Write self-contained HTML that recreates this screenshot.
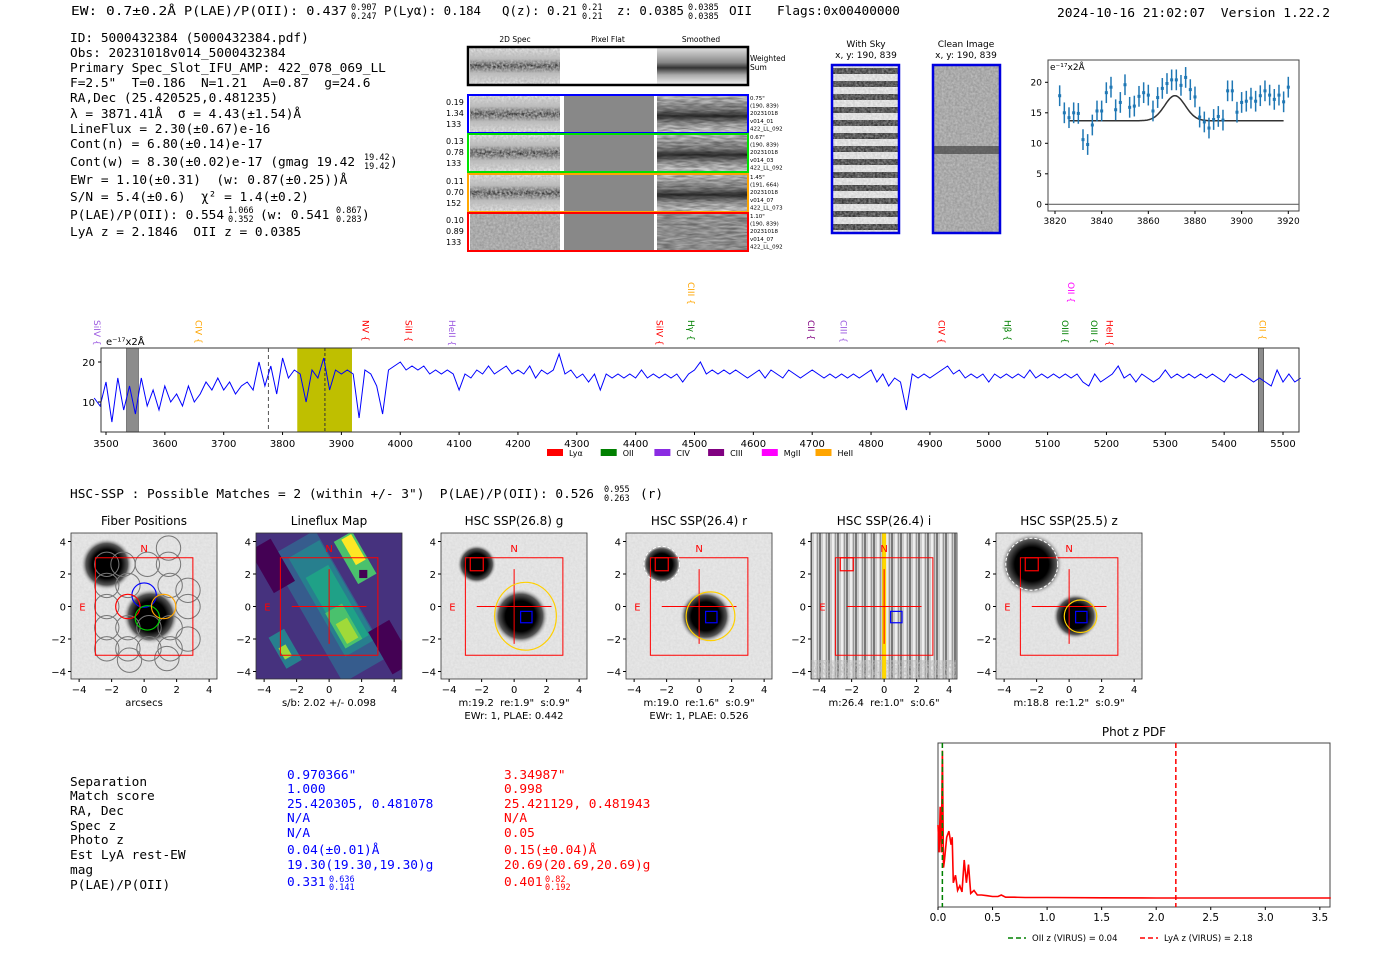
<!DOCTYPE html>
<html><head><meta charset="utf-8"><style>
html,body{margin:0;padding:0;background:#fff}
svg{display:block}
text{white-space:pre}
.m{font-family:"DejaVu Sans Mono","Liberation Mono",monospace;font-size:12.8px;fill:#000}
.m.k{font-size:8.5px}
.s{font-family:"DejaVu Sans","Liberation Sans",sans-serif;fill:#000}
</style></head><body>
<svg id="root" width="1400" height="953" viewBox="0 0 1400 953" xmlns="http://www.w3.org/2000/svg">
<defs>
<filter id="noise" x="0" y="0" width="100%" height="100%"><feTurbulence type="fractalNoise" baseFrequency="0.45" numOctaves="2" seed="3"/><feColorMatrix type="matrix" values="0 0 0 0 0.5 0 0 0 0 0.5 0 0 0 0 0.5 1.6 0 0 0 -0.3"/></filter>
<filter id="noise2" x="0" y="0" width="100%" height="100%"><feTurbulence type="fractalNoise" baseFrequency="0.08 0.5" numOctaves="2" seed="7"/><feColorMatrix type="matrix" values="0 0 0 0 0 0 0 0 0 0 0 0 0 0 0 1.4 0 0 0 -0.35"/></filter>
<radialGradient id="blob"><stop offset="0" stop-color="#000"/><stop offset="0.55" stop-color="#000"/><stop offset="0.8" stop-color="#555"/><stop offset="1" stop-color="#ddd" stop-opacity="0"/></radialGradient>
<linearGradient id="band" x1="0" y1="0" x2="0" y2="1"><stop offset="0" stop-color="#eee"/><stop offset="0.3" stop-color="#bbb"/><stop offset="0.5" stop-color="#222"/><stop offset="0.7" stop-color="#bbb"/><stop offset="1" stop-color="#eee"/></linearGradient>
<linearGradient id="bandw" x1="0" y1="0" x2="0" y2="1"><stop offset="0" stop-color="#ddd"/><stop offset="0.4" stop-color="#888"/><stop offset="0.55" stop-color="#333"/><stop offset="0.75" stop-color="#aaa"/><stop offset="1" stop-color="#eee"/></linearGradient>
<pattern id="skyst" width="66" height="13" patternUnits="userSpaceOnUse"><rect width="66" height="13" fill="#eee"/><rect y="3" width="66" height="6" fill="#333"/></pattern>
<pattern id="istripe" width="9" height="10" patternUnits="userSpaceOnUse"><rect width="9" height="10" fill="#ccc"/><rect x="0" width="2" height="10" fill="#777"/><rect x="4" width="2" height="10" fill="#eee"/><rect x="7" width="1" height="10" fill="#999"/></pattern>
</defs>

<!-- header -->
<g>
<text class="m" x="71" y="15" textLength="105" lengthAdjust="spacingAndGlyphs">EW: 0.7±0.2Å</text>
<text class="m" x="184" y="15" textLength="163" lengthAdjust="spacingAndGlyphs">P(LAE)/P(OII): 0.437</text><text class="m k" x="351" y="10">0.907</text><text class="m k" x="351" y="19">0.247</text>
<text class="m" x="384" y="15" textLength="97" lengthAdjust="spacingAndGlyphs">P(Lyα): 0.184</text>
<text class="m" x="502" y="15" textLength="75" lengthAdjust="spacingAndGlyphs">Q(z): 0.21</text><text class="m k" x="582" y="10">0.21</text><text class="m k" x="582" y="19">0.21</text>
<text class="m" x="617" y="15" textLength="67" lengthAdjust="spacingAndGlyphs">z: 0.0385</text><text class="m k" x="688" y="10">0.0385</text><text class="m k" x="688" y="19">0.0385</text><text class="m" x="729" y="15" textLength="23" lengthAdjust="spacingAndGlyphs">OII</text>
<text class="m" x="777" y="15" textLength="123" lengthAdjust="spacingAndGlyphs">Flags:0x00400000</text>
<text class="m" x="1057" y="17" textLength="273" lengthAdjust="spacingAndGlyphs">2024-10-16 21:02:07  Version 1.22.2</text>
</g>

<!-- info block -->
<g>
<text class="m" x="70" y="42">ID: 5000432384 (5000432384.pdf)</text>
<text class="m" x="70" y="57">Obs: 20231018v014_5000432384</text>
<text class="m" x="70" y="72">Primary Spec_Slot_IFU_AMP: 422_078_069_LL</text>
<text class="m" x="70" y="87">F=2.5"  T=0.186  N=1.21  A=0.87  g=24.6</text>
<text class="m" x="70" y="102">RA,Dec (25.420525,0.481235)</text>
<text class="m" x="70" y="118">λ = 3871.41Å  σ = 4.43(±1.54)Å</text>
<text class="m" x="70" y="133">LineFlux = 2.30(±0.67)e-16</text>
<text class="m" x="70" y="148">Cont(n) = 6.80(±0.14)e-17</text>
<text class="m" x="70" y="166">Cont(w) = 8.30(±0.02)e-17 (gmag 19.42</text><text class="m k" x="364" y="160">19.42</text><text class="m k" x="364" y="169">19.42</text><text class="m" x="390" y="166">)</text>
<text class="m" x="70" y="184">EWr = 1.10(±0.31)  (w: 0.87(±0.25))Å</text>
<text class="m" x="70" y="201">S/N = 5.4(±0.6)  χ² = 1.4(±0.2)</text>
<text class="m" x="70" y="219">P(LAE)/P(OII): 0.554</text><text class="m k" x="228" y="213">1.066</text><text class="m k" x="228" y="222">0.352</text><text class="m" x="260" y="219">(w: 0.541</text><text class="m k" x="336" y="213">0.867</text><text class="m k" x="336" y="222">0.283</text><text class="m" x="362" y="219">)</text>
<text class="m" x="70" y="236">LyA z = 2.1846  OII z = 0.0385</text>
</g>

<!-- 2D spectra -->
<g class="s">
<text x="515" y="42" font-size="7.5" text-anchor="middle">2D Spec</text>
<text x="608" y="42" font-size="7.5" text-anchor="middle">Pixel Flat</text>
<text x="701" y="42" font-size="7.5" text-anchor="middle">Smoothed</text>
<g>
<rect x="470" y="48" width="90" height="36" fill="url(#band)"/><rect x="470" y="48" width="90" height="36" filter="url(#noise)"/>
<rect x="657" y="48" width="90" height="36" fill="url(#bandw)"/>
<rect x="468" y="47" width="280" height="38" fill="none" stroke="#000" stroke-width="2.5"/>
<text x="750" y="61" font-size="7.5">Weighted</text><text x="750" y="70" font-size="7.5">Sum</text>
</g>
<g id="rows2d"></g>
<text x="866" y="47" font-size="9" text-anchor="middle">With Sky</text><text x="866" y="58" font-size="9" text-anchor="middle">x, y: 190, 839</text>
<text x="966" y="47" font-size="9" text-anchor="middle">Clean Image</text><text x="966" y="58" font-size="9" text-anchor="middle">x, y: 190, 839</text>
<g><rect x="832" y="65" width="67" height="168" fill="url(#skyst)"/><rect x="832" y="65" width="67" height="168" filter="url(#noise)" opacity="0.6"/><rect x="832" y="65" width="67" height="168" fill="none" stroke="#0000e0" stroke-width="2.5"/></g>
<g><rect x="933" y="65" width="67" height="168" fill="#999"/><rect x="933" y="65" width="67" height="168" filter="url(#noise)"/><rect x="933" y="146" width="67" height="8" fill="#333" opacity="0.6"/><rect x="933" y="65" width="67" height="168" fill="none" stroke="#0000e0" stroke-width="2.5"/></g>
</g>

<g id="zoomplot" class="s"></g>
<g id="spec" class="s"></g>

<text class="m" x="70" y="498">HSC-SSP : Possible Matches = 2 (within +/- 3")  P(LAE)/P(OII): 0.526</text><text class="m k" x="604" y="492">0.955</text><text class="m k" x="604" y="501">0.263</text><text class="m" x="640" y="498">(r)</text>

<g id="cutouts" class="s"></g>

<!-- match table -->
<g>
<g class="m">
<text class="m" x="70" y="786">Separation</text><text class="m" x="70" y="800">Match score</text><text class="m" x="70" y="815">RA, Dec</text><text class="m" x="70" y="830">Spec z</text><text class="m" x="70" y="844">Photo z</text><text class="m" x="70" y="859">Est LyA rest-EW</text><text class="m" x="70" y="874">mag</text><text class="m" x="70" y="889">P(LAE)/P(OII)</text>
</g>
<g>
<text class="m" x="287" y="779" style="fill:#00f">0.970366"</text><text class="m" x="287" y="793" style="fill:#00f">1.000</text><text class="m" x="287" y="808" style="fill:#00f">25.420305, 0.481078</text><text class="m" x="287" y="822" style="fill:#00f">N/A</text><text class="m" x="287" y="837" style="fill:#00f">N/A</text><text class="m" x="287" y="854" style="fill:#00f">0.04(±0.01)Å</text><text class="m" x="287" y="869" style="fill:#00f">19.30(19.30,19.30)g</text><text class="m" x="287" y="886" style="fill:#00f">0.331</text><text class="m k" x="329" y="882" style="fill:#00f">0.636</text><text class="m k" x="329" y="890" style="fill:#00f">0.141</text>
</g>
<g>
<text class="m" x="504" y="779" style="fill:#f00">3.34987"</text><text class="m" x="504" y="793" style="fill:#f00">0.998</text><text class="m" x="504" y="808" style="fill:#f00">25.421129, 0.481943</text><text class="m" x="504" y="822" style="fill:#f00">N/A</text><text class="m" x="504" y="837" style="fill:#f00">0.05</text><text class="m" x="504" y="854" style="fill:#f00">0.15(±0.04)Å</text><text class="m" x="504" y="869" style="fill:#f00">20.69(20.69,20.69)g</text><text class="m" x="504" y="886" style="fill:#f00">0.401</text><text class="m k" x="545" y="882" style="fill:#f00">0.82</text><text class="m k" x="545" y="890" style="fill:#f00">0.192</text>
</g>
</g>

<g id="pdf" class="s"></g>
</svg>

<script>
// ---------- data ----------
const specStart = 3480, specStep = 10;
const specFlux = [11,9,15,5,16,8,14,7,16,9,13,8,14,10,12,9,14,10,12,15,13,16,13,15,12,14,15,13,20,14,19,12,21,16,18,17,10,18,16,21,13,18,17,18,17,6,18,17,14,7,18,19,20,18,19,18,19,17,18,17,18,17,13,17,16,18,17,19,17,18,19,17,18,17,19,16,18,17,18,22,17,18,16,17,15,17,13,17,16,17,16,17,16,18,16,17,16,17,16,17,15,17,18,20,17,18,17,18,17,18,17,16,17,18,16,18,17,16,18,17,16,17,18,17,16,17,16,17,16,17,16,17,18,15,17,14,16,15,8,17,16,17,16,17,18,19,17,18,16,17,16,17,15,17,16,17,16,17,16,18,16,17,16,17,16,17,16,17,15,14,17,15,16,17,19,16,17,15,17,16,15,16,18,16,17,16,17,16,17,16,17,16,15,17,16,17,16,15,16,15,14,18,15,17,15,16];
const specXTicks = [3500,3600,3700,3800,3900,4000,4100,4200,4300,4400,4500,4600,4700,4800,4900,5000,5100,5200,5300,5400,5500];
const specYTicks = [10,20];
const lineNames = ["SiIV","CIV","NV","SiII","HeII","SiIV","CIII","Hγ","CII","CIII","CIV","Hβ","OII","OIII","OIII","HeII","CII"];
const lineWaves = [3484,3656,3940,4013,4087,4440,4493,4493,4697,4752,4919,5031,5139,5129,5178,5204,5464];
const lineColors = ["#9b59e0","#ffa500","#ff0000","#ff0000","#9b59e0","#ff0000","#ffa500","#008000","#800080","#9b59e0","#ff0000","#008000","#ff00ff","#008000","#008000","#ff0000","#ffa500"];
const lineHigh = [0,0,0,0,0,0,1,0,0,0,0,0,1,0,0,0,0];
const legendNames = ["Lyα","OII","CIV","CIII","MgII","HeII"];
const legendColors = ["#ff0000","#008000","#8a2be2","#800080","#ff00ff","#ffa500"];

const fitWave = [3822,3824,3826,3828,3830,3832,3834,3836,3838,3840,3842,3844,3846,3848,3850,3852,3854,3856,3858,3860,3862,3864,3866,3868,3870,3872,3874,3876,3878,3880,3882,3884,3886,3888,3890,3892,3894,3896,3898,3900,3902,3904,3906,3908,3910,3912,3914,3916,3918,3920];
const fitFlux = [17.8,15,14.2,15,14.9,10.6,9.8,13,15.3,15.3,18.3,19.2,15.5,16.7,19.6,15.9,16.1,17.7,18.3,17.9,15.3,17.5,19,19.8,20.4,20.4,19.5,20.8,18.8,17.6,14.3,13.5,12.5,13.9,14.4,13.8,18.6,18.6,15.1,16.7,16.9,17.4,16.9,17.8,18.6,17.9,17.2,17.9,16.8,19.2];
const fitErr = 1.7;
const fitBase = 13.7, fitAmp = 4.1, fitCenter = 3871.4, fitSigma = 4.43;
const fitXTicks = [3820,3840,3860,3880,3900,3920];
const fitYTicks = [0,5,10,15,20];

const pdfZ = [0,0.01,0.02,0.03,0.04,0.05,0.06,0.08,0.1,0.12,0.13,0.14,0.16,0.18,0.2,0.22,0.24,0.26,0.28,0.3,0.33,0.36,0.4,0.45,0.5,0.55,0.58,0.62,0.7,0.8,1.0,1.5,2.0,3.6];
const pdfP = [0.48,0.3,0.6,0.3,0.97,0.2,0.25,0.4,0.44,0.35,0.4,0.1,0.15,0.05,0.08,0.04,0.25,0.1,0.22,0.03,0.05,0.02,0.02,0.015,0.01,0.01,0.02,0.005,0.005,0.003,0.003,0.001,0,0];
const pdfXTicks = [0.0,0.5,1.0,1.5,2.0,2.5,3.0,3.5];
const oiiZ = 0.04, lyaZ = 2.18;

const NS="http://www.w3.org/2000/svg";
function mk(tag, attrs, parent){const e=document.createElementNS(NS,tag);for(const k in attrs)e.setAttribute(k,attrs[k]);parent.appendChild(e);return e;}
function tx(str, attrs, parent){const e=mk("text",attrs,parent);e.textContent=str;return e;}

// ---------- 2D spectra rows ----------
(function(){
  const g=document.getElementById("rows2d");
  const ys=[95,134,174,213], cols=["#0000ff","#00e000","#ffa500","#ff0000"];
  const lab=[["0.19","1.34","133"],["0.13","0.78","133"],["0.11","0.70","152"],["0.10","0.89","133"]];
  const rl=[["0.75\"","(190, 839)","20231018","v014_01","422_LL_092"],["0.67\"","(190, 839)","20231018","v014_03","422_LL_092"],["1.45\"","(191, 664)","20231018","v014_07","422_LL_073"],["1.10\"","(190, 839)","20231018","v014_07","422_LL_092"]];
  ys.forEach((y,i)=>{
    const r=mk("g",{},g);
    
    
    mk("rect",{x:470,y:y,width:90,height:38,fill:i==3?"#999":"url(#band)"},r);
    mk("rect",{x:470,y:y,width:90,height:38,filter:"url(#noise)"},r);
    mk("rect",{x:564,y:y,width:90,height:38,fill:"#888"},r);
    mk("rect",{x:657,y:y,width:90,height:38,fill:i==3?"#aaa":"url(#bandw)"},r);
    mk("rect",{x:657,y:y,width:90,height:38,filter:"url(#noise2)",opacity:0.5},r);
    mk("rect",{x:468,y:y,width:280,height:38,fill:"none",stroke:cols[i],"stroke-width":2},r);
    lab[i].forEach((s,k)=>tx(s,{x:446,y:y+10+k*11,"font-size":8},r));
    rl[i].forEach((s,k)=>tx(s,{x:750,y:y+5+k*7.6,"font-size":5.5},r));
  });
})();

// ---------- zoom fit plot ----------
(function(){
  const g=document.getElementById("zoomplot");
  const L=1048,R=1299,T=60,B=211;
  const xs=w=>1055+(w-3820)*2.333, ys=v=>204.3-v*6.1;
  mk("rect",{x:L,y:T,width:R-L,height:B-T,fill:"#fff",stroke:"#444","stroke-width":1},g);
  mk("line",{x1:L,x2:R,y1:ys(0),y2:ys(0),stroke:"#666","stroke-width":1.2},g);
  fitXTicks.forEach(t=>{mk("line",{x1:xs(t),x2:xs(t),y1:B,y2:B+3,stroke:"#000"},g);tx(String(t),{x:xs(t),y:B+13,"font-size":9,"text-anchor":"middle"},g);});
  fitYTicks.forEach(t=>{mk("line",{x1:L-3,x2:L,y1:ys(t),y2:ys(t),stroke:"#000"},g);tx(String(t),{x:L-6,y:ys(t)+3,"font-size":9,"text-anchor":"end"},g);});
  tx("e⁻¹⁷x2Å",{x:L+2,y:T+10,"font-size":9},g);
  let d="";
  for(let w=3826;w<=3918;w+=0.5){const v=fitBase+fitAmp*Math.exp(-0.5*Math.pow((w-fitCenter)/fitSigma,2));d+=(d?"L":"M")+xs(w).toFixed(1)+","+ys(v).toFixed(1);}
  const fl=mk("path",{d:d,fill:"none",stroke:"#333","stroke-width":1.5},g);
  
  
  fitWave.forEach((w,i)=>{
    const p=mk("g",{},g);
    
    
    mk("line",{x1:xs(w),x2:xs(w),y1:ys(fitFlux[i]-fitErr),y2:ys(fitFlux[i]+fitErr),stroke:"#1f77b4","stroke-width":1.5},p);
    mk("rect",{x:xs(w)-1.5,y:ys(fitFlux[i])-1.5,width:3,height:3,fill:"#1f77b4"},p);
  });
})();

// ---------- full spectrum ----------
(function(){
  const g=document.getElementById("spec");
  const L=101,R=1299,T=348,B=432;
  const xs=w=>106+(w-3500)*0.5885, ys=v=>442-v*4;
  mk("rect",{x:L,y:T,width:R-L,height:B-T,fill:"#fff"},g);
  const yb=mk("rect",{x:xs(3825),y:T,width:xs(3918)-xs(3825),height:B-T,fill:"#bfbf00"},g);
  
  
  [[3535,3555],[5458,5467]].forEach(a=>{
    const m=mk("rect",{x:xs(a[0]),y:T,width:xs(a[1])-xs(a[0]),height:B-T,fill:"#8c8c8c",stroke:"#333","stroke-width":0.6},g);
    
    
  });
  mk("line",{x1:xs(3776),x2:xs(3776),y1:T,y2:B,stroke:"#555","stroke-dasharray":"4,3"},g);
  mk("line",{x1:xs(3872),x2:xs(3872),y1:T,y2:B,stroke:"#333","stroke-dasharray":"3,2"},g);
  let d="";
  specFlux.forEach((v,i)=>{const w=specStart+i*specStep;if(w<3476||w>5530)return;d+=(d?"L":"M")+xs(w).toFixed(1)+","+ys(v).toFixed(1);});
  const sp=mk("path",{d:d,fill:"none",stroke:"#0000ff","stroke-width":1},g);
  
  
  mk("rect",{x:L,y:T,width:R-L,height:B-T,fill:"none",stroke:"#333","stroke-width":1},g);
  specXTicks.forEach(t=>{mk("line",{x1:xs(t),x2:xs(t),y1:B,y2:B+3,stroke:"#000"},g);tx(String(t),{x:xs(t),y:B+15,"font-size":10,"text-anchor":"middle"},g);});
  specYTicks.forEach(t=>{mk("line",{x1:L-3,x2:L,y1:ys(t),y2:ys(t),stroke:"#000"},g);tx(String(t),{x:L-6,y:ys(t)+4,"font-size":10,"text-anchor":"end"},g);});
  tx("e⁻¹⁷x2Å",{x:106,y:345,"font-size":10},g);
  lineNames.forEach((n,i)=>{
    const x=xs(lineWaves[i]), y0=lineHigh[i]?282:320;
    const t=tx(n+" {",{x:x,y:y0,"font-size":9,fill:lineColors[i],transform:"rotate(90 "+x+" "+y0+")","dominant-baseline":"middle"},g);
    
    
  });
  legendNames.forEach((n,i)=>{
    const x=547+i*53.7;
    const e=mk("g",{},g);
    
    
    mk("rect",{x:x,y:449,width:16,height:7,fill:legendColors[i]},e);
    tx(n,{x:x+22,y:456,"font-size":8},e);
  });
})();

// ---------- cutouts ----------
(function(){
  const g=document.getElementById("cutouts");
  const titles=["Fiber Positions","Lineflux Map","HSC SSP(26.8) g","HSC SSP(26.4) r","HSC SSP(26.4) i","HSC SSP(25.5) z"];
  const cap1=["arcsecs","s/b: 2.02 +/- 0.098","m:19.2  re:1.9\"  s:0.9\"","m:19.0  re:1.6\"  s:0.9\"","m:26.4  re:1.0\"  s:0.6\"","m:18.8  re:1.2\"  s:0.9\""];
  const cap2=["","","EWr: 1, PLAE: 0.442","EWr: 1, PLAE: 0.526","",""];
  const ticks=[-4,-2,0,2,4];
  const S=16.25;
  for(let i=0;i<6;i++){
    const L=71+i*185, T=533, W=146;
    const X=u=>L+(u+4.5)*S, Y=v=>606.5-v*S;
    const p=mk("g",{},g);
    
    
    const clipId="c"+i;
    const cp=mk("clipPath",{id:clipId},p);mk("rect",{x:L,y:T,width:W,height:W},cp);
    const im=mk("g",{"clip-path":"url(#"+clipId+")"},p);
    if(i==1){
      mk("rect",{x:L,y:T,width:W,height:W,fill:"#46327e"},im);
      const shapes=[["#365c8d",0,0,3.2,9,-30],["#277f8e",0.2,0.5,2.2,7,-30],["#1fa187",0.5,0,1.6,5,-30],["#4ac16d",0.9,-1.2,1.2,2.5,-30],["#a0da39",1.1,-1.5,0.8,1.4,-30],["#4ac16d",1.6,3,1.3,3,-30],["#fde725",1.5,3.5,0.7,1.8,-30],["#440154",2.1,2,0.5,0.5,0],["#277f8e",-2.7,-2.6,1.1,2.2,-30],["#a0da39",-2.7,-2.8,0.5,0.8,-30],["#440154",-3.5,2.5,1.5,3,-30],["#440154",3.8,-2.5,1.5,3,-30]];
      shapes.forEach(s=>{mk("rect",{x:X(s[1])-s[3]*S/2,y:Y(s[2])-s[4]*S/2,width:s[3]*S,height:s[4]*S,fill:s[0],transform:"rotate("+s[5]+" "+X(s[1])+" "+Y(s[2])+")"},im);});
    } else if(i==4){
      mk("rect",{x:L,y:T,width:W,height:W,fill:"url(#istripe)"},im);
      mk("rect",{x:L,y:Y(-3.3),width:W,height:30,filter:"url(#noise)"},im);
      mk("rect",{x:X(0)-2,y:T,width:4,height:W,fill:"#ffd700"},im);
    } else {
      mk("rect",{x:L,y:T,width:W,height:W,fill:"#e8e8e8"},im);
      mk("rect",{x:L,y:T,width:W,height:W,filter:"url(#noise)",opacity:0.25},im);
      const r1=[1.6,1.2,1.2,1.2,1.5,1.9][i], r2=[1.7,1.6,1.7,1.6,1.5,1.4][i];
      mk("circle",{cx:X(-2.3),cy:Y(2.6),r:r1*S,fill:"url(#blob)"},im);
      mk("circle",{cx:X(0.4),cy:Y(-0.6),r:r2*S,fill:"url(#blob)"},im);
    }
    if(i==0){
      const hx=[[-2.3,2.6],[-1.3,2.6],[0.2,2.6],[1.5,2.6],[-2.3,1.3],[-1,1.3],[1.6,1.3],[2.7,1],[-2.3,0],[2.7,0],[-2.3,-1.3],[-1,-1.3],[0.3,-1.3],[1.6,-1.3],[-2.3,-2.6],[-1,-2.6],[0.3,-2.6],[1.6,-2.6],[2.7,-2],[-0.9,-3.3],[1.4,-3.2],[1.5,3.6]];
      hx.forEach(c=>mk("circle",{cx:X(c[0]),cy:Y(c[1]),r:0.75*S,fill:"none",stroke:"#777","stroke-width":1},im));
      [["#0000ff",0,0.7],["#ff0000",-1,0],["#00cc00",0.2,-0.7],["#ffa500",1.2,0]].forEach(c=>mk("circle",{cx:X(c[1]),cy:Y(c[2]),r:0.75*S,fill:"none",stroke:c[0],"stroke-width":1.2},im));
    }
    mk("rect",{x:X(-3),y:Y(3),width:6*S,height:6*S,fill:"none",stroke:"#ff0000","stroke-width":1},im);
    if(i>0){
      mk("line",{x1:X(-2.3),x2:X(2.3),y1:Y(0),y2:Y(0),stroke:"#ff0000","stroke-width":1},im);
      mk("line",{x1:X(0),x2:X(0),y1:Y(2.3),y2:Y(-2.3),stroke:"#ff0000","stroke-width":1},im);
    }
    if(i>=2){
      const er=[0,0,1.9,1.5,0,1.0][i];
      if(er) mk("ellipse",{cx:X(0.7),cy:Y(-0.6),rx:er*S,ry:er*S*(i==2?1.1:1),fill:"none",stroke:"#ffd000","stroke-width":1.2},im);
      if(i==3||i==5) mk("circle",{cx:X(-2.3),cy:Y(2.6),r:(i==5?1.6:1.1)*S,fill:"none",stroke:"#fff","stroke-width":1,"stroke-dasharray":"3,2"},im);
      mk("rect",{x:X(-2.7),y:Y(3),width:0.8*S,height:0.8*S,fill:"none",stroke:"#ff0000","stroke-width":1.2},im);
      mk("rect",{x:X(0.4),y:Y(-0.3),width:0.7*S,height:0.7*S,fill:"none",stroke:"#0000ff","stroke-width":1.2},im);
    }
    tx("N",{x:X(0),y:Y(3.6)+4,"font-size":10,fill:"#ff0000","text-anchor":"middle"},p);
    tx("E",{x:X(-3.8),y:Y(0)+4,"font-size":10,fill:"#ff0000","text-anchor":"middle"},p);
    mk("rect",{x:L,y:T,width:W,height:W,fill:"none",stroke:"#333","stroke-width":0.8},p);
    ticks.forEach(t=>{
      mk("line",{x1:X(t),x2:X(t),y1:T+W,y2:T+W+3,stroke:"#000"},p);
      tx(String(t).replace("-","−"),{x:X(t),y:T+W+14,"font-size":10,"text-anchor":"middle"},p);
      mk("line",{x1:L-3,x2:L,y1:Y(t),y2:Y(t),stroke:"#000"},p);
      tx(String(t).replace("-","−"),{x:L-5,y:Y(t)+4,"font-size":10,"text-anchor":"end"},p);
    });
    tx(titles[i],{x:L+W/2,y:525,"font-size":12,"text-anchor":"middle"},p);
    tx(cap1[i],{x:L+W/2,y:706,"font-size":10,"text-anchor":"middle"},p);
    if(cap2[i]) tx(cap2[i],{x:L+W/2,y:719,"font-size":10,"text-anchor":"middle"},p);
  }
})();

// ---------- phot z pdf ----------
(function(){
  const g=document.getElementById("pdf");
  const L=938,R=1330,T=743,B=907;
  const xs=z=>938+z*109.1, ys=p=>898-p*152;
  tx("Phot z PDF",{x:(L+R)/2,y:736,"font-size":12,"text-anchor":"middle"},g);
  mk("rect",{x:L,y:T,width:R-L,height:B-T,fill:"#fff",stroke:"#444","stroke-width":1},g);
  let d="";pdfZ.forEach((z,i)=>{d+=(i?"L":"M")+xs(z).toFixed(1)+","+ys(pdfP[i]).toFixed(1);});
  const c=mk("path",{d:d,fill:"none",stroke:"#ff0000","stroke-width":1.6},g);
  
  
  const a=mk("line",{x1:xs(oiiZ),x2:xs(oiiZ),y1:T,y2:B,stroke:"#008000","stroke-width":1.5,"stroke-dasharray":"5,3"},g);
  
  
  const b=mk("line",{x1:xs(lyaZ),x2:xs(lyaZ),y1:T,y2:B,stroke:"#ff0000","stroke-width":1.5,"stroke-dasharray":"5,3"},g);
  
  
  pdfXTicks.forEach(t=>{mk("line",{x1:xs(t),x2:xs(t),y1:B,y2:B+3,stroke:"#000"},g);tx(t.toFixed(1),{x:xs(t),y:B+14,"font-size":10.5,"text-anchor":"middle"},g);});
  const lg=mk("g",{},g);
  
  
  mk("line",{x1:1008,x2:1026,y1:938,y2:938,stroke:"#008000","stroke-width":1.5,"stroke-dasharray":"5,3"},lg);
  tx("OII z (VIRUS) = 0.04",{x:1032,y:941,"font-size":8.5},lg);
  mk("line",{x1:1140,x2:1158,y1:938,y2:938,stroke:"#ff0000","stroke-width":1.5,"stroke-dasharray":"5,3"},lg);
  tx("LyA z (VIRUS) = 2.18",{x:1164,y:941,"font-size":8.5},lg);
})();
</script>
</body></html>
